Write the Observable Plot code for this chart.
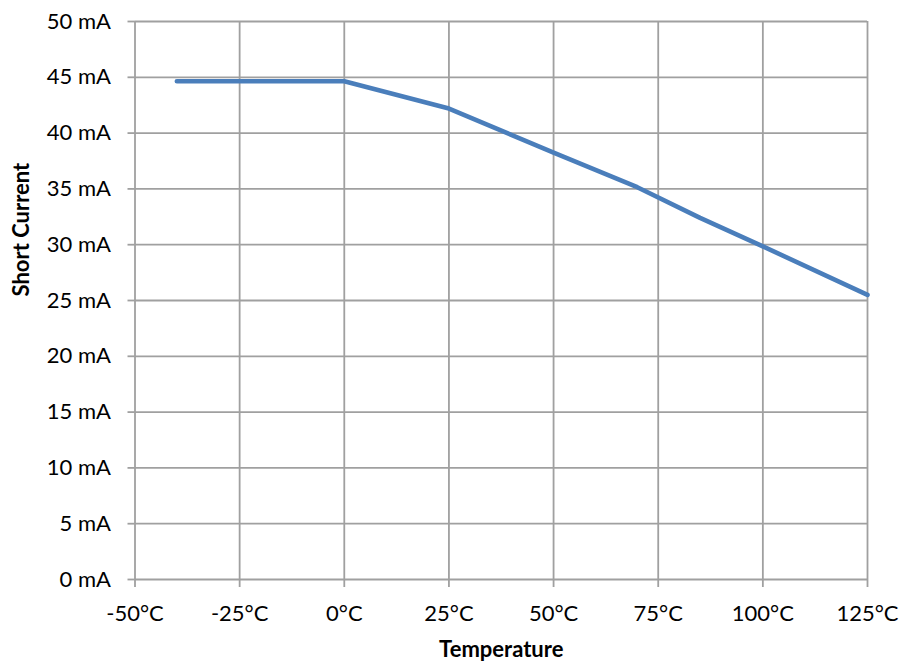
<!DOCTYPE html>
<html>
<head>
<meta charset="utf-8">
<script src="https://cdn.jsdelivr.net/npm/d3@7"></script>
<script src="https://cdn.jsdelivr.net/npm/@observablehq/plot@0.6"></script>
<style>
  html, body { margin: 0; padding: 0; background: #fff; }
  #chart { width: 902px; height: 669px; }
</style>
</head>
<body>
<div id="chart"></div>
<script>
const temperatures = [-40, 0, 25, 50, 70, 85, 100, 125];
const currents = [44.65, 44.65, 42.2, 38.25, 35.15, 32.4, 29.85, 25.5];
const xTicks = [-50, -25, 0, 25, 50, 75, 100, 125];
const yTicks = [0, 5, 10, 15, 20, 25, 30, 35, 40, 45, 50];
const xTitle = "Temperature";
const yTitle = "Short Current";

const data = temperatures.map((t, i) => ({t, c: currents[i]}));
const gridColor = "#a0a0a0";

const chart = Plot.plot({
  width: 902,
  height: 669,
  marginLeft: 134.5,
  marginRight: 35,
  marginTop: 21,
  marginBottom: 90,
  style: {fontFamily: "Lato, sans-serif", fontSize: "22px", color: "#000", background: "#fff"},
  x: {domain: [-50, 125]},
  y: {domain: [0, 50]},
  marks: [
    Plot.ruleX(xTicks, {stroke: gridColor, strokeWidth: 1.8}),
    Plot.ruleY(yTicks, {stroke: gridColor, strokeWidth: 1.8}),
    Plot.axisX({ticks: xTicks, tickFormat: d => `${d}°C`, tickSize: 8, tickPadding: 18, stroke: gridColor, strokeWidth: 1.8, fill: "#000", strokeOpacity: 1, label: null, fontSize: 22}),
    Plot.axisY({ticks: yTicks, tickFormat: d => `${d} mA`, tickSize: 7, tickPadding: 17, stroke: gridColor, strokeWidth: 1.8, fill: "#000", strokeOpacity: 1, label: null, fontSize: 22}),
    Plot.line(data, {x: "t", y: "c", stroke: "#4a7ebb", strokeWidth: 4.6, strokeLinecap: "round", strokeLinejoin: "round"}),
    Plot.text([xTitle], {frameAnchor: "bottom", dy: 77, text: d => d, fontWeight: "bold", fontSize: 22, fill: "#000"}),
    Plot.text([yTitle], {frameAnchor: "left", dx: -113, dy: -4, rotate: -90, text: d => d, fontWeight: "bold", fontSize: 22, fill: "#000"})
  ]
});
document.getElementById("chart").appendChild(chart);
</script>
</body>
</html>
